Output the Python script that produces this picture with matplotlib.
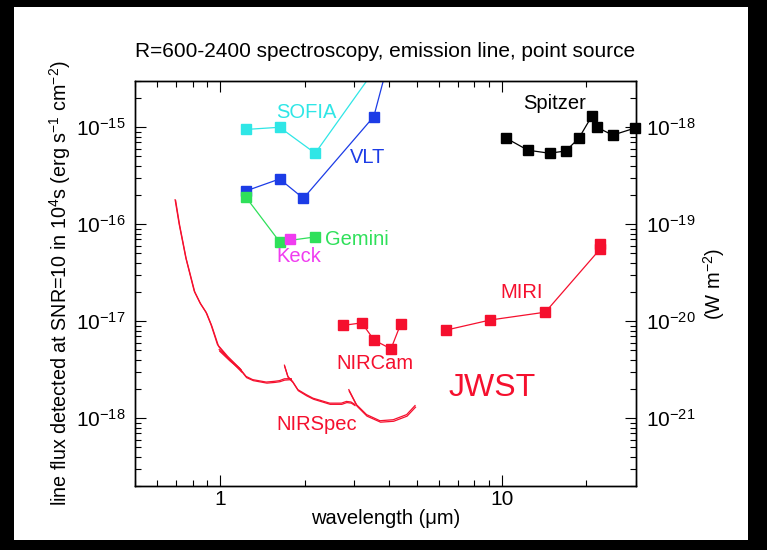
import matplotlib
matplotlib.use('Agg')
import matplotlib.pyplot as plt
from matplotlib.patches import Rectangle
from matplotlib.ticker import LogLocator, NullFormatter, FixedLocator

plt.rcParams['font.family'] = ['Liberation Sans', 'DejaVu Sans']
plt.rcParams['mathtext.fontset'] = 'custom'
plt.rcParams['mathtext.rm'] = 'Liberation Sans'
plt.rcParams['mathtext.it'] = 'Liberation Sans:italic'
plt.rcParams['mathtext.default'] = 'regular'

# ground based / other facilities (wavelength um, line flux erg s-1 cm-2)
sofia_wl = [1.24, 1.63, 2.18, 3.8]
sofia_f = [0.95e-15, 1.0e-15, 5.4e-16, 5.2e-15]
vlt_wl = [1.24, 1.63, 1.98, 3.52, 4.5]
vlt_f = [2.21e-16, 2.93e-16, 1.85e-16, 1.29e-15, 1.9e-14]
gemini_wl = [1.24, 1.63, 2.18]
gemini_f = [1.89e-16, 6.6e-17, 7.4e-17]
keck_wl = [1.78]
keck_f = [7.1e-17]
spitzer_wl = [10.4, 12.4, 14.8, 16.9, 18.8, 20.9, 21.8, 24.8, 29.7]
spitzer_f = [7.7e-16, 5.8e-16, 5.4e-16, 5.7e-16, 7.7e-16, 1.30e-15, 1.0e-15, 8.3e-16, 0.98e-15]

# JWST
nircam_wl = [2.74, 3.19, 3.53, 4.05, 4.38]
nircam_f = [9.06e-18, 9.62e-18, 6.38e-18, 5.19e-18, 9.27e-18]
miri_wl = [6.34, 9.12, 14.3, 22.4, 22.4]
miri_f = [8.09e-18, 1.03e-17, 1.24e-17, 5.57e-17, 6.26e-17]

# NIRSpec, four grating segments, two curves each
ns1a_wl = [0.694, 0.717, 0.757, 0.811, 0.850, 0.892, 0.930, 0.981, 1.065, 1.189]
ns1a_f = [1.79e-16, 1.01e-16, 4.53e-17, 2.05e-17, 1.55e-17, 1.25e-17, 9.27e-18, 5.75e-18, 4.36e-18, 3.17e-18]
ns1b_wl = [0.697, 0.720, 0.760, 0.815, 0.856, 0.899, 0.937, 0.990, 1.075, 1.195]
ns1b_f = [1.75e-16, 0.98e-16, 4.40e-17, 2.00e-17, 1.50e-17, 1.20e-17, 8.9e-18, 5.5e-18, 4.1e-18, 3.0e-18]
ns2a_wl = [0.995, 1.080, 1.173, 1.239, 1.308, 1.460, 1.560, 1.628, 1.696, 1.792]
ns2a_f = [5.1e-18, 4.06e-18, 3.30e-18, 2.70e-18, 2.50e-18, 2.36e-18, 2.40e-18, 2.44e-18, 2.55e-18, 2.56e-18]
ns2b_wl = [1.000, 1.086, 1.180, 1.245, 1.315, 1.470, 1.570, 1.635, 1.700, 1.795]
ns2b_f = [4.9e-18, 3.9e-18, 3.18e-18, 2.62e-18, 2.44e-18, 2.30e-18, 2.34e-18, 2.38e-18, 2.47e-18, 2.50e-18]
ns3a_wl = [1.696, 1.743, 1.811, 1.892, 2.027, 2.140, 2.454, 2.701, 2.814, 2.92, 3.01]
ns3a_f = [3.52e-18, 2.70e-18, 2.40e-18, 1.97e-18, 1.75e-18, 1.61e-18, 1.43e-18, 1.43e-18, 1.49e-18, 1.47e-18, 1.39e-18]
ns3b_wl = [1.700, 1.750, 1.820, 1.900, 2.035, 2.150, 2.465, 2.710, 2.825, 2.93, 3.02]
ns3b_f = [3.40e-18, 2.62e-18, 2.33e-18, 1.92e-18, 1.70e-18, 1.57e-18, 1.39e-18, 1.39e-18, 1.45e-18, 1.43e-18, 1.35e-18]
ns4a_wl = [2.87, 3.055, 3.317, 3.70, 4.126, 4.605, 4.93]
ns4a_f = [1.97e-18, 1.38e-18, 1.09e-18, 9.42e-19, 9.65e-19, 1.09e-18, 1.35e-18]
ns4b_wl = [2.88, 3.07, 3.33, 3.72, 4.14, 4.62, 4.95]
ns4b_f = [1.90e-18, 1.33e-18, 1.05e-18, 9.1e-19, 9.3e-19, 1.05e-18, 1.30e-18]

# tick positions inside the plotted range
left_major = [1e-18, 1e-17, 1e-16, 1e-15]
right_major = [1e-21, 1e-20, 1e-19, 1e-18]

c_red = '#f5102e'
c_cyan = '#2fe6e6'
c_blue = '#1c3ce6'
c_green = '#2fe05a'
c_mag = '#f03cf0'

fig = plt.figure(figsize=(7.67, 5.5), dpi=100)
fig.patch.set_facecolor('black')
fig.patches.append(Rectangle((14 / 767, 10 / 550), 734 / 767, 533 / 550,
                             transform=fig.transFigure, facecolor='white',
                             edgecolor='none', zorder=-10))
ax = fig.add_axes([135 / 767, 64 / 550, 501 / 767, 405 / 550])

ms = 7
ax.plot(sofia_wl, sofia_f, '-s', color=c_cyan, lw=0.9, ms=ms)
ax.plot(vlt_wl, vlt_f, '-s', color=c_blue, lw=0.9, ms=ms)
ax.plot(gemini_wl, gemini_f, '-s', color=c_green, lw=0.9, ms=ms)
ax.plot(keck_wl, keck_f, 's', color=c_mag, ms=ms)
ax.plot(spitzer_wl, spitzer_f, '-s', color='black', lw=0.9, ms=ms, clip_on=False)
ax.plot(nircam_wl, nircam_f, '-s', color=c_red, lw=0.9, ms=ms)
ax.plot(miri_wl, miri_f, '-s', color=c_red, lw=0.9, ms=ms)
for wl, f in [(ns1a_wl, ns1a_f), (ns1b_wl, ns1b_f), (ns2a_wl, ns2a_f), (ns2b_wl, ns2b_f),
              (ns3a_wl, ns3a_f), (ns3b_wl, ns3b_f), (ns4a_wl, ns4a_f), (ns4b_wl, ns4b_f)]:
    ax.plot(wl, f, '-', color=c_red, lw=0.9)

ax.set_xscale('log')
ax.set_yscale('log')
ax.set_xlim(0.5, 30)
ax.set_ylim(2e-19, 3e-15)

fs = 14.5
ax.text(2.03, 1.41e-15, 'SOFIA', color=c_cyan, fontsize=fs, ha='center', va='center')
ax.text(3.35, 4.9e-16, 'VLT', color=c_blue, fontsize=fs, ha='center', va='center')
ax.text(3.06, 7.0e-17, 'Gemini', color=c_green, fontsize=fs, ha='center', va='center')
ax.text(1.90, 4.6e-17, 'Keck', color=c_mag, fontsize=fs, ha='center', va='center')
ax.text(15.4, 1.77e-15, 'Spitzer', color='black', fontsize=fs, ha='center', va='center')
ax.text(11.8, 2.0e-17, 'MIRI', color=c_red, fontsize=fs, ha='center', va='center')
ax.text(3.56, 3.67e-18, 'NIRCam', color=c_red, fontsize=fs, ha='center', va='center')
ax.text(2.21, 8.63e-19, 'NIRSpec', color=c_red, fontsize=fs, ha='center', va='center')
ax.text(9.28, 2.04e-18, 'JWST', color=c_red, fontsize=23, ha='center', va='center')

ax.set_title('R=600-2400 spectroscopy, emission line, point source', fontsize=15, pad=17)
ax.set_xlabel('wavelength (μm)', fontsize=14.5, labelpad=0)
ax.set_ylabel('line flux detected at SNR=10 in 10$^{4}$s (erg s$^{-1}$ cm$^{-2}$)', fontsize=14.2, labelpad=2)

ax.set_xticks([1, 10])
ax.set_xticklabels(['1', '10'])
ax.xaxis.set_minor_locator(FixedLocator([0.5, 0.6, 0.7, 0.8, 0.9, 2, 3, 4, 5, 6, 7, 8, 9, 20, 30]))
ax.xaxis.set_minor_formatter(NullFormatter())
ax.set_yticks(left_major)
ax.yaxis.set_minor_locator(LogLocator(base=10, subs=range(2, 10), numticks=20))
ax.yaxis.set_minor_formatter(NullFormatter())
ax.tick_params(which='both', direction='in', top=True, right=False, labelsize=15, width=0.8)
ax.tick_params(which='major', length=8, pad=7)
ax.tick_params(axis='x', which='major', pad=3)
ax.tick_params(which='minor', length=4)

ax2 = ax.twinx()
ax2.set_yscale('log')
ax2.set_ylim(2e-22, 3e-18)
ax2.set_yticks(right_major)
ax2.yaxis.set_minor_locator(LogLocator(base=10, subs=range(2, 10), numticks=20))
ax2.yaxis.set_minor_formatter(NullFormatter())
ax2.tick_params(which='both', direction='in', labelsize=15, width=0.8)
ax2.tick_params(which='major', length=8, pad=7)
ax2.tick_params(which='minor', length=4)
ax2.set_ylabel('(W m$^{-2}$)', fontsize=14.5, labelpad=4)

for a in (ax, ax2):
    for s in a.spines.values():
        s.set_linewidth(1.0)

fig.savefig('out.png', dpi=100, facecolor=fig.get_facecolor())
